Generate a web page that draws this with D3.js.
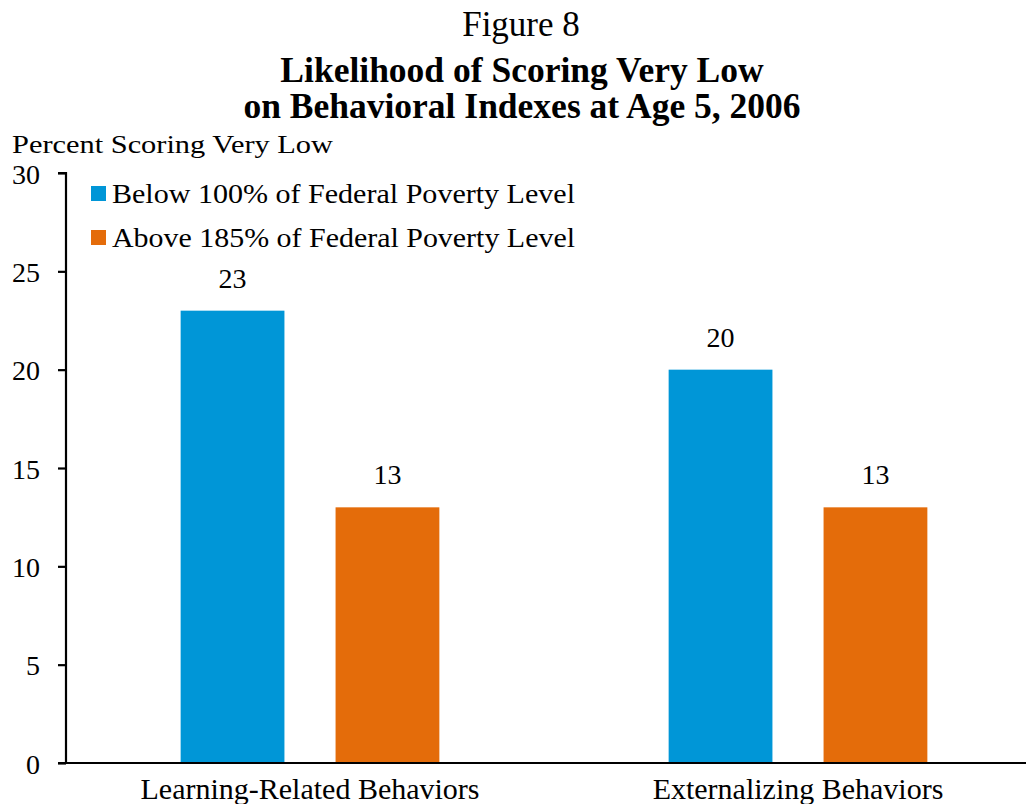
<!DOCTYPE html>
<html>
<head>
<meta charset="utf-8">
<script src="https://cdn.jsdelivr.net/npm/d3@7"></script>
<style>
  body { margin: 0; background: #fff; }
  svg { display: block; font-family: "Liberation Serif", "Times New Roman", serif; }
</style>
</head>
<body>
<div id="graph"></div>
<script>
var categories = ["Learning-Related Behaviors", "Externalizing Behaviors"];
var series_names = ["Below 100% of Federal Poverty Level", "Above 185% of Federal Poverty Level"];
var below_100 = [23, 20];
var above_185 = [13, 13];
var y_ticks = [0, 5, 10, 15, 20, 25, 30];
var series_colors = ["#0096D7", "#E46C0A"];

var WIDTH = 1026, HEIGHT = 804;
var LEFT = 66, BOTTOM = 763, TOP = 173;

var svg = d3.select("#graph")
            .append("svg")
              .attr("width", WIDTH)
              .attr("height", HEIGHT);

// Titles
svg.append("text").attr("x", 521).attr("y", 36).attr("text-anchor", "middle")
   .attr("font-size", 35).text("Figure 8");
svg.append("text").attr("x", 522).attr("y", 82).attr("text-anchor", "middle")
   .attr("font-size", 35.5).attr("font-weight", "bold").text("Likelihood of Scoring Very Low");
svg.append("text").attr("x", 522).attr("y", 118).attr("text-anchor", "middle")
   .attr("font-size", 35.5).attr("font-weight", "bold").text("on Behavioral Indexes at Age 5, 2006");

// Y axis title
svg.append("text").attr("x", 12).attr("y", 153)
   .attr("font-size", 26).attr("textLength", 321).attr("lengthAdjust", "spacingAndGlyphs")
   .text("Percent Scoring Very Low");

// Scales
var x0 = d3.scaleBand()
           .domain(categories)
           .range([LEFT, LEFT + 976])
           .padding(0);

var x1 = d3.scaleBand()
           .domain([0, 1])
           .range([0, x0.bandwidth()])
           .paddingInner(0.33)
           .paddingOuter(0.74);

var yscale = d3.scaleLinear()
               .domain([0, 30])
               .range([BOTTOM, TOP]);

// Bars
var rows = categories.map(function(c, i) {
  return {cat: c, values: [below_100[i], above_185[i]]};
});

var groups = svg.selectAll("g.group")
                .data(rows)
                .enter().append("g")
                  .attr("class", "group")
                  .attr("transform", function(d) { return "translate(" + x0(d.cat) + ",0)"; });

groups.selectAll("rect")
      .data(function(d) { return d.values; })
      .enter().append("rect")
        .attr("x", function(d, j) { return x1(j); })
        .attr("y", function(d) { return yscale(d); })
        .attr("width", x1.bandwidth())
        .attr("height", function(d) { return BOTTOM - yscale(d); })
        .attr("fill", function(d, j) { return series_colors[j]; });

groups.selectAll("text.val")
      .data(function(d) { return d.values; })
      .enter().append("text")
        .attr("class", "val")
        .attr("x", function(d, j) { return x1(j) + x1.bandwidth() / 2; })
        .attr("y", function(d) { return yscale(d) - 23; })
        .attr("text-anchor", "middle")
        .attr("font-size", 28)
        .text(function(d) { return d; });

// Axes
var y_axis = d3.axisLeft(yscale).tickValues(y_ticks).tickSize(8).tickPadding(18);
var yAxisElements = svg.append("g")
                       .attr("transform", "translate(" + LEFT + ",0)")
                       .call(y_axis);
yAxisElements.select(".domain").attr("d", "M-8," + TOP + "H0V" + BOTTOM);

var x_axis = d3.axisBottom(x0).tickSize(0).tickPadding(15);
var xAxisElements = svg.append("g")
                       .attr("transform", "translate(0," + BOTTOM + ")")
                       .call(x_axis);
xAxisElements.select(".domain").attr("d", "M" + (LEFT - 8) + ",0H" + WIDTH);

svg.selectAll(".domain, .tick line")
   .attr("stroke", "#000")
   .attr("stroke-width", 2.2);
svg.selectAll(".tick text")
   .attr("fill", "#000")
   .attr("font-family", "Liberation Serif, serif");
yAxisElements.selectAll(".tick text").attr("font-size", 28).attr("dy", "0.36em");
xAxisElements.selectAll(".tick text").attr("font-size", 30);

// Legend
var legend = svg.selectAll("g.legend")
                .data(series_names)
                .enter().append("g")
                  .attr("class", "legend")
                  .attr("transform", function(d, i) { return "translate(91," + (186 + i * 44) + ")"; });
legend.append("rect").attr("width", 15).attr("height", 15)
      .attr("fill", function(d, i) { return series_colors[i]; });
legend.append("text").attr("x", 21).attr("y", 17).attr("font-size", 28)
      .attr("textLength", 463).attr("lengthAdjust", "spacingAndGlyphs")
      .text(function(d) { return d; });
</script>
</body>
</html>
